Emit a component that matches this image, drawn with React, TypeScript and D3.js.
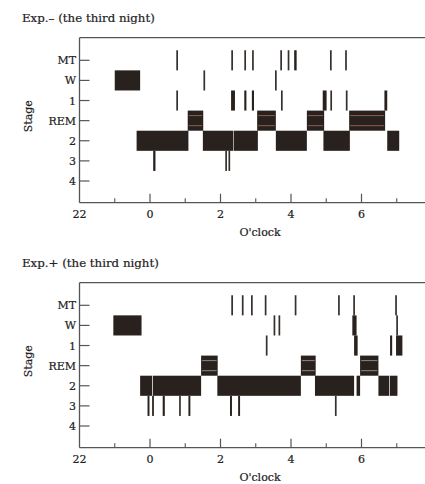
import React from "react";
import * as d3 from "d3";

// ---- data ----
const STAGES = ["MT", "W", "1", "REM", "2", "3", "4"];
const MAJOR_TICKS = [22, 24, 26, 28, 30];
const MAJOR_LABELS = ["22", "0", "2", "4", "6"];
const MINOR_TICKS = [23, 25, 27, 29, 31];

// blocks: [start (clock h, after midnight = 24+), end, stage]
const expMinusBlocks: [number, number, string][] = [
  [23.0, 23.72, "W"],
  [23.62, 25.09, "2"],
  [25.07, 25.51, "REM"],
  [25.5, 26.36, "2"],
  [26.375, 27.06, "2"],
  [27.04, 27.57, "REM"],
  [27.57, 28.45, "2"],
  [28.45, 28.94, "REM"],
  [28.92, 29.67, "2"],
  [29.65, 30.67, "REM"],
  [30.73, 31.07, "2"],
  [28.09, 28.16, "MT"],
  [26.3, 26.41, "1"],
  [26.675, 26.735, "1"],
  [26.89, 26.95, "1"],
  [28.9, 29.01, "1"],
  [30.65, 30.73, "1"],
  [24.09, 24.155, "3"],
];
// single-epoch events: [time, stage]
const expMinusEvents: [number, string][] = [
  [24.77, "MT"], [26.33, "MT"], [26.7, "MT"], [26.92, "MT"], [27.72, "MT"], [27.93, "MT"], [29.13, "MT"], [29.56, "MT"],
  [25.54, "W"], [27.57, "W"],
  [24.77, "1"], [27.74, "1"], [29.14, "1"], [29.58, "1"],
  [26.16, "3"], [26.25, "3"],
];

const expPlusBlocks: [number, number, string][] = [
  [22.96, 23.76, "W"],
  [23.72, 24.06, "2"],
  [24.08, 25.45, "2"],
  [25.45, 25.92, "REM"],
  [25.91, 28.28, "2"],
  [28.28, 28.7, "REM"],
  [28.68, 29.79, "2"],
  [29.74, 29.86, "W"],
  [29.79, 29.89, "1"],
  [29.86, 29.96, "2"],
  [29.96, 30.48, "REM"],
  [30.48, 30.78, "2"],
  [30.8, 31.02, "2"],
  [30.81, 30.87, "1"],
  [30.98, 31.16, "1"],
  [23.93, 23.985, "3"],
  [24.06, 24.11, "3"],
  [24.36, 24.42, "3"],
  [25.09, 25.145, "3"],
  [26.27, 26.325, "3"],
  [26.5, 26.555, "3"],
];
const expPlusEvents: [number, string][] = [
  [26.33, "MT"], [26.63, "MT"], [26.89, "MT"], [27.28, "MT"], [28.13, "MT"], [29.36, "MT"], [29.79, "MT"], [30.98, "MT"],
  [27.53, "W"], [27.67, "W"], [31.01, "W"],
  [27.31, "1"],
  [24.85, "3"], [29.27, "3"],
];

const PANELS = [
  { title: "Exp.\u2013 (the third night)", blocks: expMinusBlocks, events: expMinusEvents, remLine: "#9a6457" },
  { title: "Exp.+ (the third night)", blocks: expPlusBlocks, events: expPlusEvents, remLine: "#9c938c" },
];

// ---- layout ----
const W = 425;
const H = 484;
const FONT = "'DejaVu Serif', 'Liberation Serif', serif";
const FILL = "#29211d";
const AXIS = "#555";
const TEXT = "#222";

const x = d3.scaleLinear().domain([22, 32]).range([79.5, 432]);

function Panel({ p, dy }: { p: (typeof PANELS)[number]; dy: number }) {
  const y = d3.scalePoint<string>().domain(STAGES).range([60.3, 181]);
  const band = y.step();
  const top = 37.7;
  const bottom = 202.7;
  const left = 79.5;
  const txt = { fontFamily: FONT, fill: TEXT, stroke: TEXT, strokeWidth: 0.2 };
  return (
    <g transform={`translate(0,${dy})`}>
      <text x={22} y={22} fontSize={11.8} {...txt}>
        {p.title}
      </text>
      {/* frame */}
      <line x1={left} x2={440} y1={top} y2={top} stroke={AXIS} strokeWidth={1.3} />
      <line x1={left} x2={left} y1={top} y2={bottom} stroke={AXIS} strokeWidth={1.3} />
      <line x1={left} x2={440} y1={bottom} y2={bottom} stroke={AXIS} strokeWidth={1.3} />
      {/* y ticks */}
      {STAGES.map((s) => (
        <g key={s}>
          <line x1={left} x2={left + 10} y1={y(s)} y2={y(s)} stroke={AXIS} strokeWidth={1.2} />
          <text x={76} y={(y(s) as number) + 4} textAnchor="end" fontSize={11} {...txt}>
            {s}
          </text>
        </g>
      ))}
      {/* x ticks */}
      {MAJOR_TICKS.map((t, i) => (
        <g key={t}>
          {i > 0 && <line x1={x(t)} x2={x(t)} y1={bottom} y2={bottom - 9} stroke={AXIS} strokeWidth={1.2} />}
          <text x={x(t)} y={bottom + 15.5} textAnchor="middle" fontSize={11} {...txt}>
            {MAJOR_LABELS[i]}
          </text>
        </g>
      ))}
      {MINOR_TICKS.map((t) => (
        <line key={t} x1={x(t)} x2={x(t)} y1={bottom} y2={bottom - 4.5} stroke={AXIS} strokeWidth={1.1} />
      ))}
      <text x={260} y={bottom + 33.5} textAnchor="middle" fontSize={11} {...txt}>
        O'clock
      </text>
      <text
        transform={`translate(32,${(top + bottom) / 2 - 4}) rotate(-90)`}
        textAnchor="middle"
        fontSize={11}
        {...txt}
      >
        Stage
      </text>
      {/* blocks */}
      {p.blocks.map(([a, b, s], i) => {
        const cy = y(s) as number;
        return (
          <g key={`b${i}`}>
            <rect x={x(a)} width={x(b) - x(a)} y={cy - band / 2} height={band} fill={FILL} />
            {s === "REM" && (
              <>
                <line x1={x(a) + 1} x2={x(b) - 1} y1={cy - band / 4} y2={cy - band / 4} stroke={p.remLine} strokeWidth={0.9} />
                <line x1={x(a) + 1} x2={x(b) - 1} y1={cy + band / 4} y2={cy + band / 4} stroke={p.remLine} strokeWidth={0.9} />
              </>
            )}
          </g>
        );
      })}
      {/* single epochs */}
      {p.events.map(([t, s], i) => {
        const cy = y(s) as number;
        return <rect key={`e${i}`} x={x(t) - 0.85} width={1.7} y={cy - band / 2} height={band} fill="#36302c" />;
      })}
    </g>
  );
}

export default function App() {
  return (
    <svg width={W} height={H} style={{ position: "absolute", left: 0, top: 0, background: "#fff" }}>
      <rect width={W} height={H} fill="#fff" />
      {PANELS.map((p, i) => (
        <Panel key={i} p={p} dy={i * 245} />
      ))}
    </svg>
  );
}
